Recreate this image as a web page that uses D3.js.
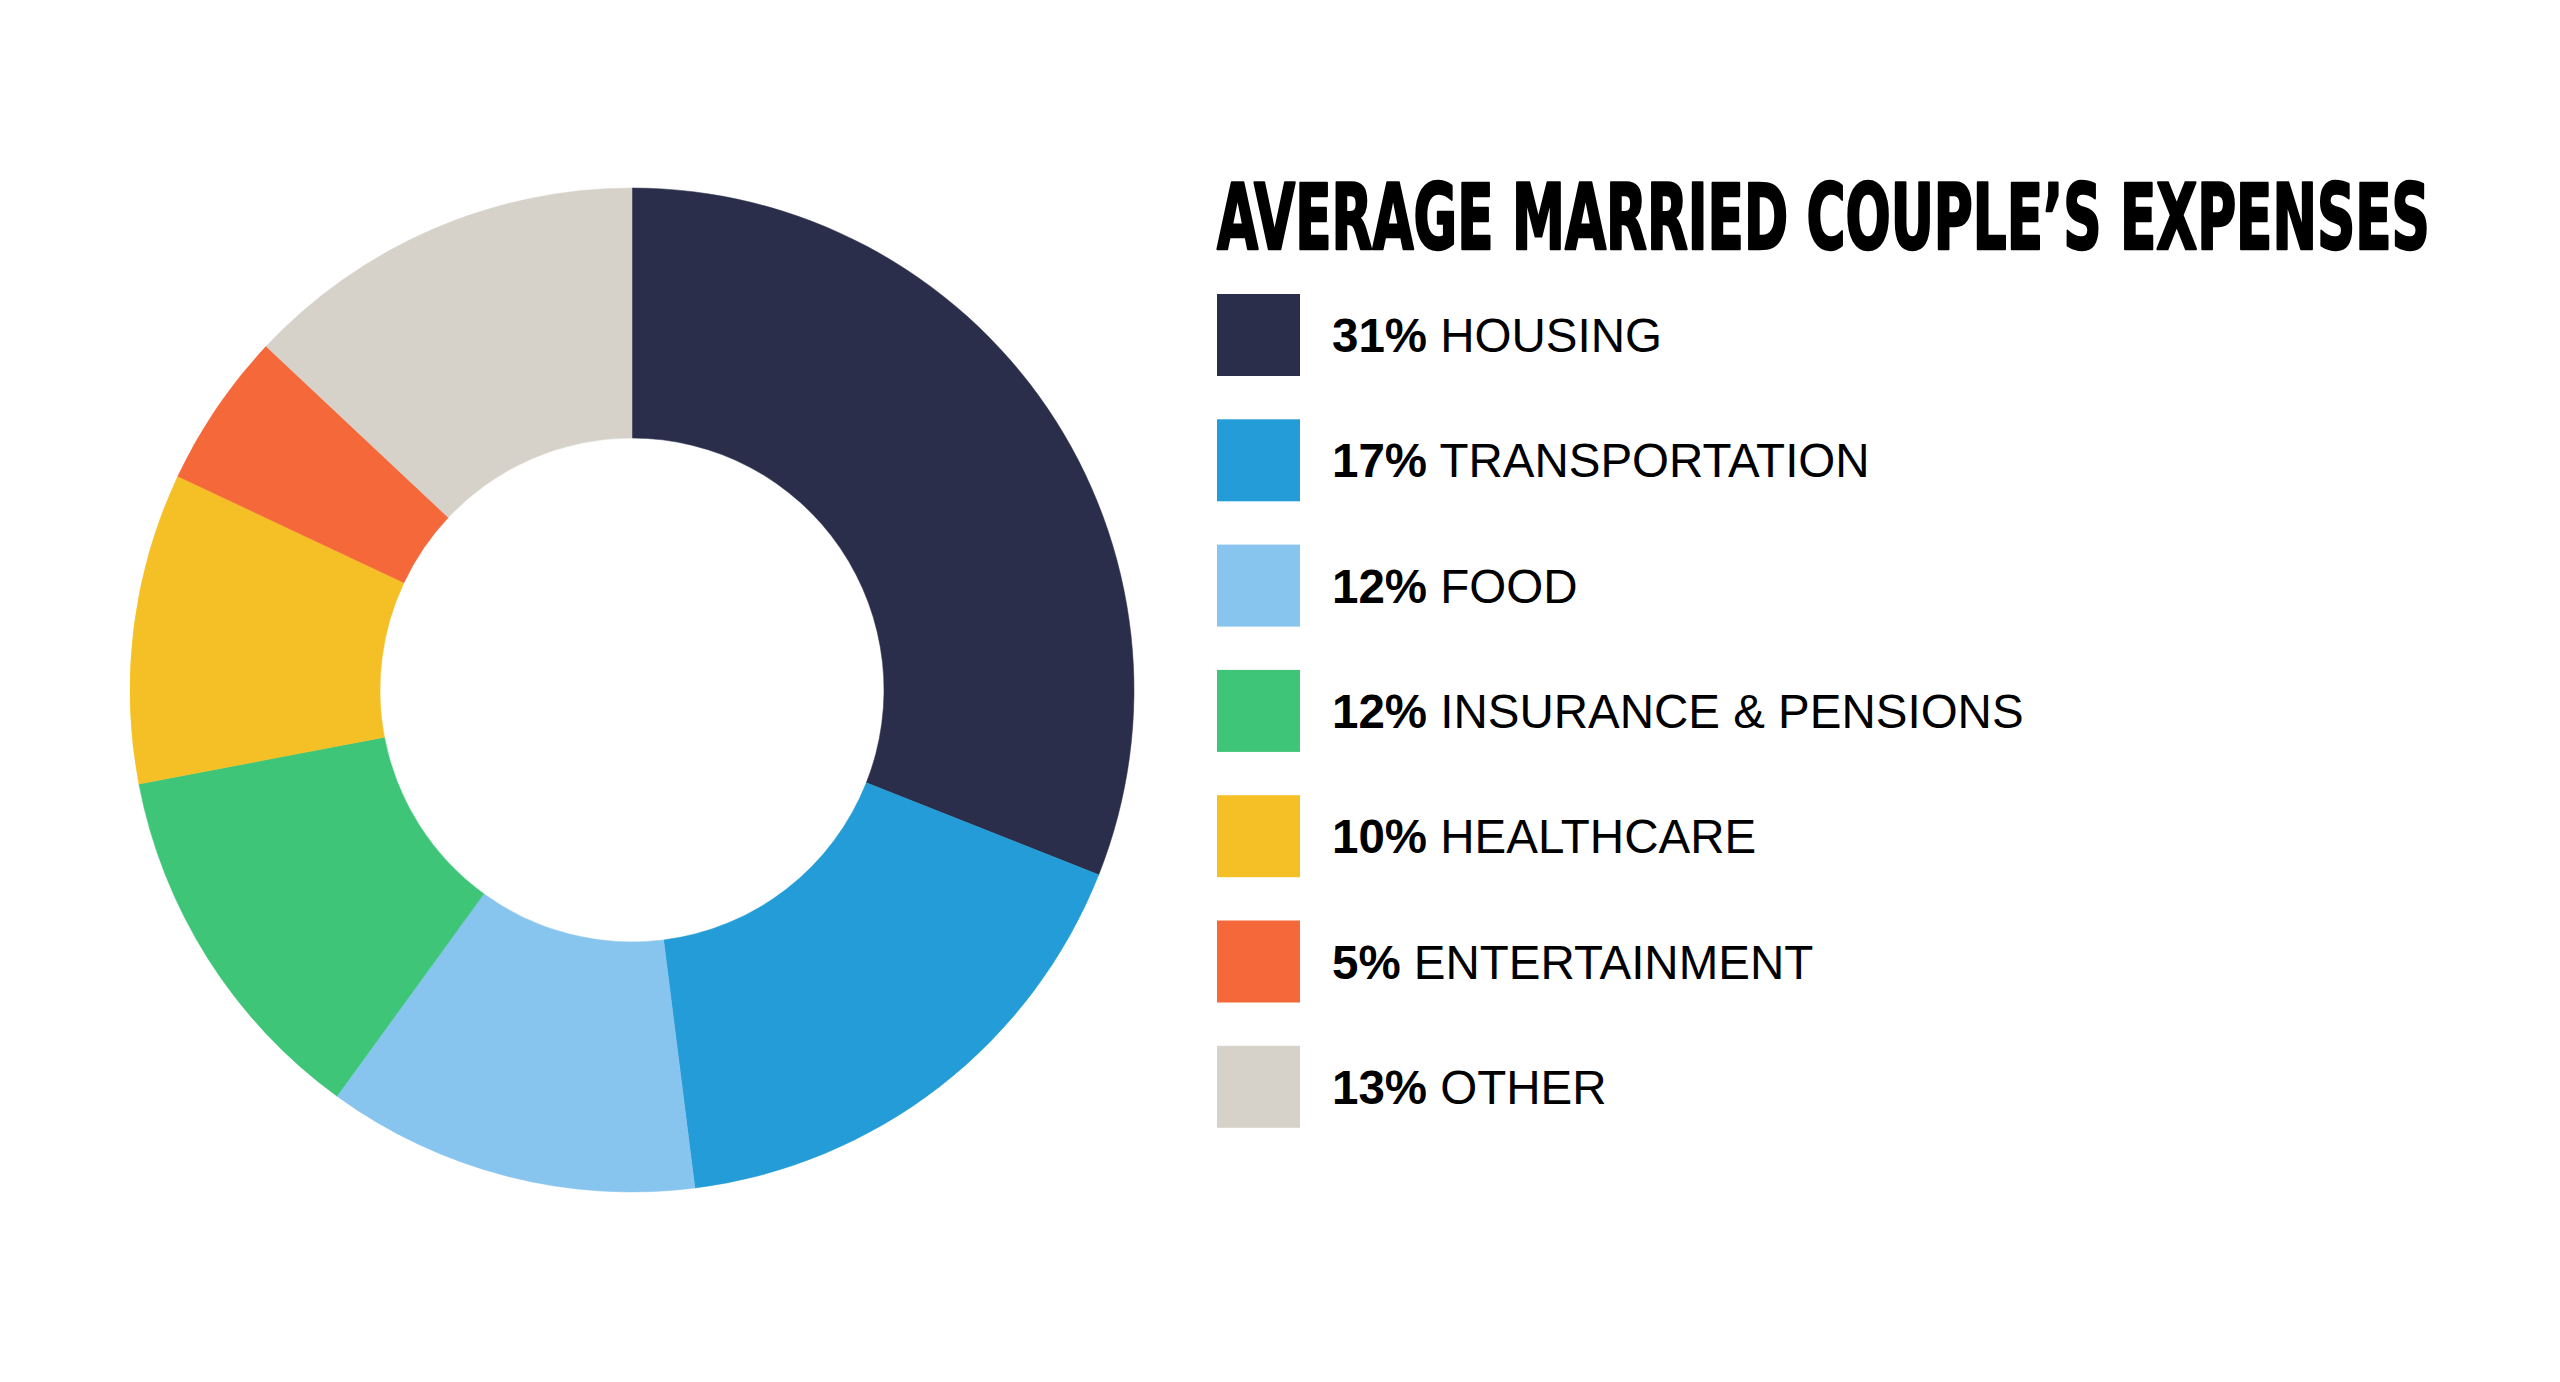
<!DOCTYPE html>
<html>
<head>
<meta charset="utf-8">
<script src="https://cdn.jsdelivr.net/npm/d3@7"></script>
<style>
  html, body { margin: 0; padding: 0; background: #fff; }
  svg { display: block; }
</style>
</head>
<body>
<svg id="chart"></svg>
<script>
// Data
const categories = ['HOUSING', 'TRANSPORTATION', 'FOOD', 'INSURANCE & PENSIONS', 'HEALTHCARE', 'ENTERTAINMENT', 'OTHER'];
const shares = [31, 17, 12, 12, 10, 5, 13];
const sliceColors = ['#2a2e4b', '#239cd7', '#87c4ee', '#3ec578', '#f5c026', '#f4683a', '#d6d2ca'];
const title = 'AVERAGE MARRIED COUPLE\u2019S EXPENSES';

const width = 2560;
const height = 1382;

const svg = d3.select('#chart')
  .attr('width', width)
  .attr('height', height)
  .attr('viewBox', `0 0 ${width} ${height}`);

const data = categories.map((name, i) => ({ name, value: shares[i] }));

const color = d3.scaleOrdinal()
  .domain(categories)
  .range(sliceColors);

// Donut
const cx = 632, cy = 690;
const outerR = 502, innerR = 252;

const pie = d3.pie()
  .sort(null)
  .value((d) => d.value);

const arc = d3.arc()
  .innerRadius(innerR)
  .outerRadius(outerR);

svg.append('g')
  .attr('transform', `translate(${cx},${cy})`)
  .selectAll('path')
  .data(pie(data))
  .join('path')
  .attr('d', arc)
  .attr('fill', (d) => color(d.data.name))
  .attr('stroke', (d) => color(d.data.name))
  .attr('stroke-width', 0.5);

// Title, squeezed horizontally to the reference's width
const legendX = 1217;
const titleWidth = 1213;
const titleText = svg.append('text')
  .attr('x', 0)
  .attr('y', 0)
  .attr('font-family', '"DejaVu Sans Condensed", "DejaVu Sans", sans-serif')
  .attr('font-weight', 'bold')
  .attr('font-size', 90)
  .attr('fill', '#000')
  .attr('stroke', '#000')
  .attr('stroke-width', 2.5)
  .attr('stroke-linejoin', 'round')
  .text(title);
const natural = titleText.node().getComputedTextLength();
titleText.attr('transform', `translate(${legendX},249) scale(${titleWidth / natural},1)`);

// Legend
const rowY = d3.scaleBand()
  .domain(categories)
  .range([294, 294 + 125.3 * categories.length])
  .paddingInner(0);

const legend = svg.append('g')
  .selectAll('g')
  .data(data)
  .join('g')
  .attr('transform', (d) => `translate(${legendX},${rowY(d.name)})`);

legend.append('rect')
  .attr('width', 83)
  .attr('height', 82)
  .attr('fill', (d) => color(d.name));

const label = legend.append('text')
  .attr('x', 115)
  .attr('y', 58)
  .attr('font-family', '"Liberation Sans", Arial, sans-serif')
  .attr('font-size', 47.5)
  .attr('fill', '#000');

label.append('tspan')
  .attr('font-weight', 'bold')
  .text((d) => `${d.value}%`);

label.append('tspan')
  .text((d) => ` ${d.name}`);
</script>
</body>
</html>
